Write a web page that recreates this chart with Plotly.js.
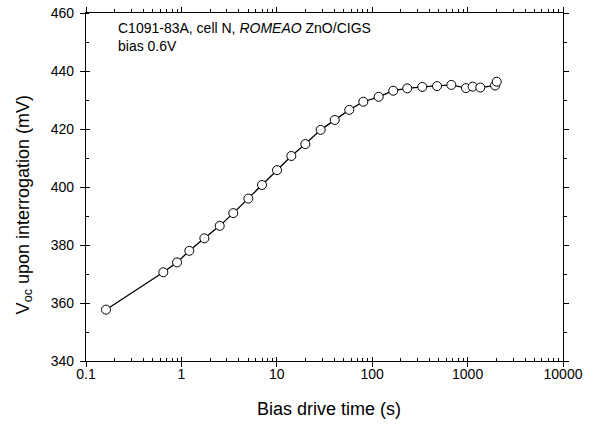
<!DOCTYPE html>
<html>
<head>
<meta charset="utf-8">
<script src="https://cdn.plot.ly/plotly-3.0.1.min.js"></script>
<style>html,body{margin:0;padding:0;background:#fff;}#chart{width:608px;height:426px;}</style>
</head>
<body>
<div id="chart"></div>
<script>
// Data
var timeS = [0.162, 0.646, 0.90, 1.21, 1.74, 2.52, 3.50, 5.03, 7.00, 10.05, 14.2, 19.9, 28.8, 40.5, 57.5, 80.7, 117, 166, 233, 335, 478, 675, 961, 1130, 1360, 1940, 2020];
var vocMV = [357.7, 370.6, 374.0, 378.0, 382.3, 386.6, 391.0, 396.0, 400.7, 405.8, 410.7, 414.8, 419.7, 423.1, 426.6, 429.4, 431.1, 433.2, 434.0, 434.5, 434.8, 435.2, 434.1, 434.6, 434.3, 435.0, 436.3];
var xTickVals = [0.1, 1, 10, 100, 1000, 10000];
var xTickText = ["0.1", "1", "10", "100", "1000", "10000"];
var yTickVals = [340, 360, 380, 400, 420, 440, 460];

var minorX = [];
for (var d = -1; d < 4; d++) {
  for (var k = 2; k <= 9; k++) minorX.push(k * Math.pow(10, d));
}

var font = "Liberation Sans, Arial, sans-serif";

var trace = {
  x: timeS, y: vocMV, type: "scatter", mode: "lines+markers",
  line: {color: "#000", width: 1.3},
  marker: {symbol: "circle", size: 9, color: "#fff", line: {color: "#000", width: 1}},
  showlegend: false, cliponaxis: false
};

var xr = [-1, 4], yr = [340, 460];
var axCommon = {showgrid: false, zeroline: false, showline: true, linecolor: "#000", linewidth: 1.2, tickcolor: "#000", tickwidth: 1};

function ov(extra) { return Object.assign({}, axCommon, extra); }

var layout = {
  width: 608, height: 426,
  margin: {l: 86, r: 45, t: 13, b: 65},
  paper_bgcolor: "#fff", plot_bgcolor: "#fff",
  font: {family: font, color: "#000", size: 14},
  xaxis: ov({
    type: "log", range: xr, tickmode: "array", tickvals: xTickVals, ticktext: xTickText,
    ticks: "", tickfont: {size: 14, family: font}, ticklabelstandoff: 0,
    minor: {tickmode: "array", tickvals: minorX, ticks: "inside", ticklen: 3, tickwidth: 1, tickcolor: "#000", showgrid: false}
  }),
  xaxis2: ov({
    type: "log", range: xr, overlaying: "x", anchor: "y", side: "bottom",
    tickmode: "array", tickvals: xTickVals, ticks: "inside", ticklen: 4, showticklabels: false
  }),
  xaxis3: ov({
    type: "log", range: xr, overlaying: "x", anchor: "y", side: "top",
    tickmode: "array", tickvals: xTickVals, ticks: "outside", ticklen: 5, showticklabels: false,
    minor: {tickmode: "array", tickvals: minorX, ticks: "outside", ticklen: 3, tickwidth: 1, tickcolor: "#000", showgrid: false}
  }),
  xaxis4: ov({
    type: "log", range: xr, overlaying: "x", anchor: "y", side: "bottom",
    tickmode: "array", tickvals: xTickVals, ticks: "outside", ticklen: 5, showticklabels: false
  }),
  yaxis: ov({
    range: yr, tickmode: "array", tickvals: yTickVals, ticks: "",
    tickfont: {size: 14, family: font}, ticklabelstandoff: 8,
    minor: {dtick: 10, ticks: "inside", ticklen: 3, tickwidth: 1, tickcolor: "#000", showgrid: false}
  }),
  yaxis2: ov({
    range: yr, overlaying: "y", anchor: "x", side: "left",
    tickmode: "array", tickvals: yTickVals, ticks: "inside", ticklen: 4, showticklabels: false
  }),
  yaxis3: ov({
    range: yr, overlaying: "y", anchor: "x", side: "right",
    tickmode: "array", tickvals: yTickVals, ticks: "outside", ticklen: 5, showticklabels: false,
    minor: {dtick: 10, ticks: "outside", ticklen: 3, tickwidth: 1, tickcolor: "#000", showgrid: false}
  }),
  yaxis4: ov({
    range: yr, overlaying: "y", anchor: "x", side: "left",
    tickmode: "array", tickvals: yTickVals, ticks: "outside", ticklen: 5, showticklabels: false
  }),
  annotations: [
    {xref: "paper", yref: "paper", x: 0.062, y: 0.985, xanchor: "left", yanchor: "top", align: "left", showarrow: false,
     text: "C1091-83A, cell N, <i>ROMEAO</i> ZnO/CIGS<br>bias 0.6V", font: {size: 14, family: font}},
    {xref: "paper", yref: "paper", x: -0.13, y: 0.45, xanchor: "center", yanchor: "middle", textangle: -90, showarrow: false,
     text: "V<sub>oc</sub> upon interrogation (mV)", font: {size: 18, family: font}},
    {xref: "paper", yref: "paper", x: 0.51, y: -0.138, xanchor: "center", yanchor: "middle", showarrow: false,
     text: "Bias drive time (s)", font: {size: 18, family: font}}
  ]
};

function dummy(xa, ya) {
  return {x: [1], y: [400], xaxis: xa, yaxis: ya, mode: "markers", marker: {opacity: 0}, showlegend: false, hoverinfo: "skip"};
}

Plotly.newPlot("chart", [dummy("x2", "y"), dummy("x3", "y"), dummy("x4", "y"), dummy("x", "y2"), dummy("x", "y3"), dummy("x", "y4"), trace], layout, {staticPlot: true, displayModeBar: false});
</script>
</body>
</html>
